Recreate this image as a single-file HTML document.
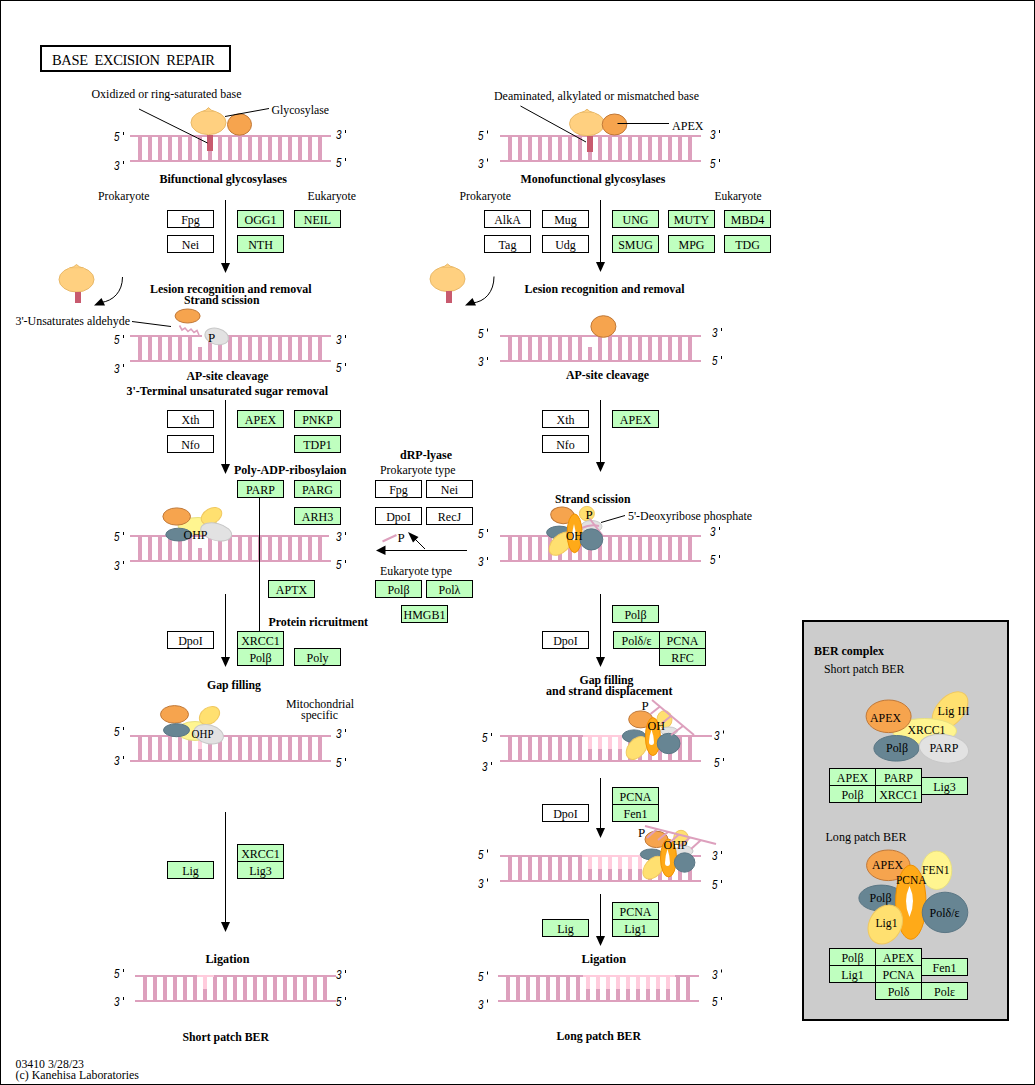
<!DOCTYPE html>
<html><head><meta charset="utf-8"><style>
html,body{margin:0;padding:0;background:#fff;}
svg{display:block;font-family:"Liberation Serif",serif;}
</style></head><body>
<svg width="1035" height="1085" viewBox="0 0 1035 1085">
<rect x="0.5" y="0.5" width="1034" height="1084" fill="#fff" stroke="#000" stroke-width="1"/>
<rect x="41" y="46" width="189" height="25" fill="none" stroke="#000" stroke-width="2"/>
<text x="52" y="65" font-size="14.5" textLength="163" lengthAdjust="spacing" xml:space="preserve">BASE  EXCISION  REPAIR</text>
<text x="91.5" y="97.5" font-size="13" textLength="150" lengthAdjust="spacingAndGlyphs" >Oxidized or ring-saturated base</text>
<rect x="130" y="135" width="201" height="2" fill="#dda0bd"/>
<rect x="130" y="160" width="201" height="2" fill="#dda0bd"/>
<rect x="138" y="137" width="4" height="23" fill="#dda0bd"/>
<rect x="148" y="137" width="4" height="23" fill="#dda0bd"/>
<rect x="158" y="137" width="4" height="23" fill="#dda0bd"/>
<rect x="168" y="137" width="4" height="23" fill="#dda0bd"/>
<rect x="178" y="137" width="4" height="23" fill="#dda0bd"/>
<rect x="188" y="137" width="4" height="23" fill="#dda0bd"/>
<rect x="198" y="137" width="4" height="23" fill="#dda0bd"/>
<rect x="208" y="137" width="4" height="23" fill="#dda0bd"/>
<rect x="218" y="137" width="4" height="23" fill="#dda0bd"/>
<rect x="228" y="137" width="4" height="23" fill="#dda0bd"/>
<rect x="238" y="137" width="4" height="23" fill="#dda0bd"/>
<rect x="248" y="137" width="4" height="23" fill="#dda0bd"/>
<rect x="258" y="137" width="4" height="23" fill="#dda0bd"/>
<rect x="268" y="137" width="4" height="23" fill="#dda0bd"/>
<rect x="278" y="137" width="4" height="23" fill="#dda0bd"/>
<rect x="288" y="137" width="4" height="23" fill="#dda0bd"/>
<rect x="298" y="137" width="4" height="23" fill="#dda0bd"/>
<rect x="308" y="137" width="4" height="23" fill="#dda0bd"/>
<rect x="318" y="137" width="4" height="23" fill="#dda0bd"/>
<text x="114" y="141" font-size="12" font-style="italic" font-family="Liberation Sans" textLength="5.5" lengthAdjust="spacingAndGlyphs">5</text>
<rect x="123" y="132" width="1" height="3" fill="#000"/>
<text x="114" y="170" font-size="12" font-style="italic" font-family="Liberation Sans" textLength="5.5" lengthAdjust="spacingAndGlyphs">3</text>
<rect x="123" y="161" width="1" height="3" fill="#000"/>
<text x="336" y="139" font-size="12" font-style="italic" font-family="Liberation Sans" textLength="5.5" lengthAdjust="spacingAndGlyphs">3</text>
<rect x="345" y="130" width="1" height="3" fill="#000"/>
<text x="336" y="167" font-size="12" font-style="italic" font-family="Liberation Sans" textLength="5.5" lengthAdjust="spacingAndGlyphs">5</text>
<rect x="345" y="158" width="1" height="3" fill="#000"/>
<ellipse cx="208.5" cy="122.6" rx="17.5" ry="12" fill="#ffd080" stroke="#e8b868" stroke-width="1"/>
<path d="M201.5,111.8 Q206.5,110.6 208.5,107.6 Q210.5,110.6 215.5,111.8 Z" fill="#ffd080" stroke="#e8b868" stroke-width="1"/>
<rect x="200.5" y="111.8" width="16" height="4" fill="#ffd080"/>
<rect x="207" y="135" width="6" height="16" fill="#c85a6e"/>
<ellipse cx="239.5" cy="124.5" rx="12" ry="10.7" fill="#f6a44e" stroke="#c07838" stroke-width="1"/>
<line x1="139" y1="109" x2="207.5" y2="143" stroke="#000" stroke-width="1"/>
<line x1="225" y1="116.5" x2="269" y2="108.5" stroke="#000" stroke-width="1"/>
<text x="271.5" y="114" font-size="13" textLength="57.5" lengthAdjust="spacingAndGlyphs" >Glycosylase</text>
<text x="159.5" y="182.5" font-size="13" font-weight="bold" textLength="127.5" lengthAdjust="spacingAndGlyphs" >Bifunctional glycosylases</text>
<text x="98" y="199.8" font-size="13" textLength="51.5" lengthAdjust="spacingAndGlyphs" >Prokaryote</text>
<text x="307.5" y="199.8" font-size="13" textLength="48.5" lengthAdjust="spacingAndGlyphs" >Eukaryote</text>
<rect x="167.5" y="210.5" width="46" height="17" fill="#ffffff" stroke="#000" stroke-width="1"/>
<text x="190.5" y="224" font-size="13" text-anchor="middle" textLength="18.67" lengthAdjust="spacingAndGlyphs">Fpg</text>
<rect x="167.5" y="235.5" width="46" height="17" fill="#ffffff" stroke="#000" stroke-width="1"/>
<text x="190.5" y="249" font-size="13" text-anchor="middle" textLength="17.33" lengthAdjust="spacingAndGlyphs">Nei</text>
<rect x="237.5" y="210.5" width="46" height="17" fill="#bfffbf" stroke="#000" stroke-width="1"/>
<text x="260.5" y="224" font-size="13" text-anchor="middle" textLength="32.02" lengthAdjust="spacingAndGlyphs">OGG1</text>
<rect x="294.5" y="210.5" width="46" height="17" fill="#bfffbf" stroke="#000" stroke-width="1"/>
<text x="317.5" y="224" font-size="13" text-anchor="middle" textLength="27.33" lengthAdjust="spacingAndGlyphs">NEIL</text>
<rect x="237.5" y="235.5" width="46" height="17" fill="#bfffbf" stroke="#000" stroke-width="1"/>
<text x="260.5" y="249" font-size="13" text-anchor="middle" textLength="24.67" lengthAdjust="spacingAndGlyphs">NTH</text>
<line x1="225.5" y1="200" x2="225.5" y2="264" stroke="#000" stroke-width="1"/>
<path d="M221,263 L230,263 L225.5,273 Z" fill="#000"/>
<ellipse cx="76.5" cy="279.5" rx="17.5" ry="12.5" fill="#ffd080" stroke="#e8b868" stroke-width="1"/>
<path d="M69.5,268.2 Q74.5,267.0 76.5,264.5 Q78.5,267.0 83.5,268.2 Z" fill="#ffd080" stroke="#e8b868" stroke-width="1"/>
<rect x="68.5" y="268.2" width="16" height="4" fill="#ffd080"/>
<rect x="75" y="292" width="6" height="11" fill="#c85a6e"/>
<path d="M122.5,277 C122.5,292 113,301 101,302.5" fill="none" stroke="#000" stroke-width="1"/>
<path d="M94,305.5 L101.5,298 L105,305.5 Z" fill="#000"/>
<text x="150" y="293" font-size="13" font-weight="bold" textLength="161.5" lengthAdjust="spacingAndGlyphs" >Lesion recognition and removal</text>
<text x="184" y="304" font-size="13" font-weight="bold" textLength="75.5" lengthAdjust="spacingAndGlyphs" >Strand scission</text>
<text x="15.5" y="325" font-size="13" textLength="114.5" lengthAdjust="spacingAndGlyphs" >3'-Unsaturates aldehyde</text>
<line x1="132" y1="321.5" x2="171" y2="326.5" stroke="#000" stroke-width="1"/>
<rect x="130" y="335" width="72" height="2" fill="#dda0bd"/>
<rect x="226" y="335" width="105" height="2" fill="#dda0bd"/>
<rect x="130" y="360" width="201" height="2" fill="#dda0bd"/>
<rect x="138" y="337" width="4" height="23" fill="#dda0bd"/>
<rect x="148" y="337" width="4" height="23" fill="#dda0bd"/>
<rect x="158" y="337" width="4" height="23" fill="#dda0bd"/>
<rect x="168" y="337" width="4" height="23" fill="#dda0bd"/>
<rect x="178" y="337" width="4" height="23" fill="#dda0bd"/>
<rect x="188" y="337" width="4" height="23" fill="#dda0bd"/>
<rect x="198" y="347" width="4" height="13" fill="#dda0bd"/>
<rect x="208" y="337" width="4" height="23" fill="#dda0bd"/>
<rect x="218" y="337" width="4" height="23" fill="#dda0bd"/>
<rect x="228" y="337" width="4" height="23" fill="#dda0bd"/>
<rect x="238" y="337" width="4" height="23" fill="#dda0bd"/>
<rect x="248" y="337" width="4" height="23" fill="#dda0bd"/>
<rect x="258" y="337" width="4" height="23" fill="#dda0bd"/>
<rect x="268" y="337" width="4" height="23" fill="#dda0bd"/>
<rect x="278" y="337" width="4" height="23" fill="#dda0bd"/>
<rect x="288" y="337" width="4" height="23" fill="#dda0bd"/>
<rect x="298" y="337" width="4" height="23" fill="#dda0bd"/>
<rect x="308" y="337" width="4" height="23" fill="#dda0bd"/>
<rect x="318" y="337" width="4" height="23" fill="#dda0bd"/>
<text x="114" y="344" font-size="12" font-style="italic" font-family="Liberation Sans" textLength="5.5" lengthAdjust="spacingAndGlyphs">5</text>
<rect x="123" y="335" width="1" height="3" fill="#000"/>
<text x="114" y="373" font-size="12" font-style="italic" font-family="Liberation Sans" textLength="5.5" lengthAdjust="spacingAndGlyphs">3</text>
<rect x="123" y="364" width="1" height="3" fill="#000"/>
<text x="336" y="344" font-size="12" font-style="italic" font-family="Liberation Sans" textLength="5.5" lengthAdjust="spacingAndGlyphs">3</text>
<rect x="345" y="335" width="1" height="3" fill="#000"/>
<text x="336" y="372" font-size="12" font-style="italic" font-family="Liberation Sans" textLength="5.5" lengthAdjust="spacingAndGlyphs">5</text>
<rect x="345" y="363" width="1" height="3" fill="#000"/>
<ellipse cx="187.6" cy="316" rx="12.5" ry="7" fill="#f6a44e" stroke="#c07838" stroke-width="1"/>
<path d="M179.5,325.5 L182,330 L185,328 L188,331.5 L191,329 L194,332.5 L197,330.5 L199,335" fill="none" stroke="#dda0bd" stroke-width="1.6"/>
<ellipse cx="216.7" cy="336.4" rx="12" ry="8" fill="#e2e2e2" stroke="#c8c8c8" stroke-width="1" transform="rotate(15 216.7 336.4)"/>
<text x="208" y="342" font-size="13" >P</text>
<text x="186.5" y="380" font-size="13" font-weight="bold" textLength="82" lengthAdjust="spacingAndGlyphs" >AP-site cleavage</text>
<text x="126.5" y="395" font-size="13" font-weight="bold" textLength="201.5" lengthAdjust="spacingAndGlyphs" >3'-Terminal unsaturated sugar removal</text>
<rect x="167.5" y="410.5" width="46" height="17" fill="#ffffff" stroke="#000" stroke-width="1"/>
<text x="190.5" y="424" font-size="13" text-anchor="middle" textLength="18.00" lengthAdjust="spacingAndGlyphs">Xth</text>
<rect x="167.5" y="435.5" width="46" height="17" fill="#ffffff" stroke="#000" stroke-width="1"/>
<text x="190.5" y="449" font-size="13" text-anchor="middle" textLength="18.67" lengthAdjust="spacingAndGlyphs">Nfo</text>
<rect x="237.5" y="410.5" width="46" height="17" fill="#bfffbf" stroke="#000" stroke-width="1"/>
<text x="260.5" y="424" font-size="13" text-anchor="middle" textLength="31.34" lengthAdjust="spacingAndGlyphs">APEX</text>
<rect x="294.5" y="410.5" width="46" height="17" fill="#bfffbf" stroke="#000" stroke-width="1"/>
<text x="317.5" y="424" font-size="13" text-anchor="middle" textLength="30.69" lengthAdjust="spacingAndGlyphs">PNKP</text>
<rect x="294.5" y="435.5" width="46" height="17" fill="#bfffbf" stroke="#000" stroke-width="1"/>
<text x="317.5" y="449" font-size="13" text-anchor="middle" textLength="28.67" lengthAdjust="spacingAndGlyphs">TDP1</text>
<line x1="225.5" y1="400" x2="225.5" y2="465" stroke="#000" stroke-width="1"/>
<path d="M221,464 L230,464 L225.5,474 Z" fill="#000"/>
<text x="234" y="473.5" font-size="13" font-weight="bold" textLength="112.5" lengthAdjust="spacingAndGlyphs" >Poly-ADP-ribosylaion</text>
<rect x="237.5" y="480.5" width="46" height="17" fill="#bfffbf" stroke="#000" stroke-width="1"/>
<text x="260.5" y="494" font-size="13" text-anchor="middle" textLength="28.92" lengthAdjust="spacingAndGlyphs">PARP</text>
<rect x="294.5" y="480.5" width="46" height="17" fill="#bfffbf" stroke="#000" stroke-width="1"/>
<text x="317.5" y="494" font-size="13" text-anchor="middle" textLength="30.92" lengthAdjust="spacingAndGlyphs">PARG</text>
<rect x="294.5" y="507.5" width="46" height="17" fill="#bfffbf" stroke="#000" stroke-width="1"/>
<text x="317.5" y="521" font-size="13" text-anchor="middle" textLength="31.34" lengthAdjust="spacingAndGlyphs">ARH3</text>
<rect x="130" y="535" width="199" height="2" fill="#dda0bd"/>
<rect x="130" y="560" width="201" height="2" fill="#dda0bd"/>
<rect x="138" y="537" width="4" height="23" fill="#dda0bd"/>
<rect x="148" y="537" width="4" height="23" fill="#dda0bd"/>
<rect x="158" y="537" width="4" height="23" fill="#dda0bd"/>
<rect x="168" y="537" width="4" height="23" fill="#dda0bd"/>
<rect x="178" y="537" width="4" height="23" fill="#dda0bd"/>
<rect x="188" y="537" width="4" height="23" fill="#dda0bd"/>
<rect x="198" y="548" width="4" height="12" fill="#dda0bd"/>
<rect x="208" y="537" width="4" height="23" fill="#dda0bd"/>
<rect x="218" y="537" width="4" height="23" fill="#dda0bd"/>
<rect x="228" y="537" width="4" height="23" fill="#dda0bd"/>
<rect x="238" y="537" width="4" height="23" fill="#dda0bd"/>
<rect x="248" y="537" width="4" height="23" fill="#dda0bd"/>
<rect x="258" y="537" width="4" height="23" fill="#dda0bd"/>
<rect x="268" y="537" width="4" height="23" fill="#dda0bd"/>
<rect x="278" y="537" width="4" height="23" fill="#dda0bd"/>
<rect x="288" y="537" width="4" height="23" fill="#dda0bd"/>
<rect x="298" y="537" width="4" height="23" fill="#dda0bd"/>
<rect x="308" y="537" width="4" height="23" fill="#dda0bd"/>
<rect x="318" y="537" width="4" height="23" fill="#dda0bd"/>
<text x="114" y="541" font-size="12" font-style="italic" font-family="Liberation Sans" textLength="5.5" lengthAdjust="spacingAndGlyphs">5</text>
<rect x="123" y="532" width="1" height="3" fill="#000"/>
<text x="114" y="570" font-size="12" font-style="italic" font-family="Liberation Sans" textLength="5.5" lengthAdjust="spacingAndGlyphs">3</text>
<rect x="123" y="561" width="1" height="3" fill="#000"/>
<text x="336" y="541" font-size="12" font-style="italic" font-family="Liberation Sans" textLength="5.5" lengthAdjust="spacingAndGlyphs">3</text>
<rect x="345" y="532" width="1" height="3" fill="#000"/>
<text x="336" y="569" font-size="12" font-style="italic" font-family="Liberation Sans" textLength="5.5" lengthAdjust="spacingAndGlyphs">5</text>
<rect x="345" y="560" width="1" height="3" fill="#000"/>
<ellipse cx="198" cy="526" rx="20" ry="8.5" fill="#fff590" stroke="#e8e080" stroke-width="1"/>
<ellipse cx="211.5" cy="516" rx="11" ry="7.5" fill="#ffe070" stroke="#f0c860" stroke-width="1" transform="rotate(-30 211.5 516)"/>
<ellipse cx="176.7" cy="516.5" rx="13.8" ry="8.6" fill="#f6a44e" stroke="#c07838" stroke-width="1"/>
<ellipse cx="178.7" cy="534.6" rx="12.9" ry="6.4" fill="#678593" stroke="#5a7684" stroke-width="1"/>
<ellipse cx="216.2" cy="531.9" rx="15.8" ry="8.5" fill="#e2e2e2" stroke="#c8c8c8" stroke-width="1" transform="rotate(15 216.2 531.9)"/>
<text x="183.5" y="538.5" font-size="13" textLength="24" lengthAdjust="spacingAndGlyphs" >OHP</text>
<line x1="259.5" y1="497" x2="259.5" y2="631" stroke="#000" stroke-width="1"/>
<rect x="268.5" y="580.5" width="46" height="17" fill="#bfffbf" stroke="#000" stroke-width="1"/>
<text x="291.5" y="594" font-size="13" text-anchor="middle" textLength="31.34" lengthAdjust="spacingAndGlyphs">APTX</text>
<line x1="225.5" y1="594" x2="225.5" y2="658" stroke="#000" stroke-width="1"/>
<path d="M221,657 L230,657 L225.5,667 Z" fill="#000"/>
<text x="268.5" y="625.5" font-size="13" font-weight="bold" textLength="99.5" lengthAdjust="spacingAndGlyphs" >Protein ricruitment</text>
<rect x="167.5" y="631.5" width="46" height="17" fill="#ffffff" stroke="#000" stroke-width="1"/>
<text x="190.5" y="645" font-size="13" text-anchor="middle" textLength="24.67" lengthAdjust="spacingAndGlyphs">DpoI</text>
<rect x="237.5" y="631.5" width="46" height="17" fill="#bfffbf" stroke="#000" stroke-width="1"/>
<text x="260.5" y="645" font-size="13" text-anchor="middle" textLength="38.67" lengthAdjust="spacingAndGlyphs">XRCC1</text>
<rect x="237.5" y="648.5" width="46" height="17" fill="#bfffbf" stroke="#000" stroke-width="1"/>
<text x="260.5" y="662" font-size="13" text-anchor="middle" textLength="22.11" lengthAdjust="spacingAndGlyphs">Polβ</text>
<rect x="294.5" y="648.5" width="46" height="17" fill="#bfffbf" stroke="#000" stroke-width="1"/>
<text x="317.5" y="662" font-size="13" text-anchor="middle" textLength="22.00" lengthAdjust="spacingAndGlyphs">Poly</text>
<text x="207" y="689" font-size="13" font-weight="bold" textLength="54" lengthAdjust="spacingAndGlyphs" >Gap  filling</text>
<text x="286" y="707.5" font-size="13" textLength="68" lengthAdjust="spacingAndGlyphs" >Mitochondrial</text>
<text x="301" y="718.5" font-size="13" textLength="37" lengthAdjust="spacingAndGlyphs" >specific</text>
<rect x="130" y="735" width="201" height="2" fill="#dda0bd"/>
<rect x="130" y="760" width="201" height="2" fill="#dda0bd"/>
<rect x="138" y="737" width="4" height="23" fill="#dda0bd"/>
<rect x="148" y="737" width="4" height="23" fill="#dda0bd"/>
<rect x="158" y="737" width="4" height="23" fill="#dda0bd"/>
<rect x="168" y="737" width="4" height="23" fill="#dda0bd"/>
<rect x="178" y="737" width="4" height="23" fill="#dda0bd"/>
<rect x="188" y="737" width="4" height="23" fill="#dda0bd"/>
<rect x="198" y="737" width="4" height="12" fill="#ffccdd"/>
<rect x="198" y="749" width="4" height="11" fill="#dda0bd"/>
<rect x="208" y="737" width="4" height="23" fill="#dda0bd"/>
<rect x="218" y="737" width="4" height="23" fill="#dda0bd"/>
<rect x="228" y="737" width="4" height="23" fill="#dda0bd"/>
<rect x="238" y="737" width="4" height="23" fill="#dda0bd"/>
<rect x="248" y="737" width="4" height="23" fill="#dda0bd"/>
<rect x="258" y="737" width="4" height="23" fill="#dda0bd"/>
<rect x="268" y="737" width="4" height="23" fill="#dda0bd"/>
<rect x="278" y="737" width="4" height="23" fill="#dda0bd"/>
<rect x="288" y="737" width="4" height="23" fill="#dda0bd"/>
<rect x="298" y="737" width="4" height="23" fill="#dda0bd"/>
<rect x="308" y="737" width="4" height="23" fill="#dda0bd"/>
<rect x="318" y="737" width="4" height="23" fill="#dda0bd"/>
<text x="114" y="736" font-size="12" font-style="italic" font-family="Liberation Sans" textLength="5.5" lengthAdjust="spacingAndGlyphs">5</text>
<rect x="123" y="727" width="1" height="3" fill="#000"/>
<text x="114" y="765" font-size="12" font-style="italic" font-family="Liberation Sans" textLength="5.5" lengthAdjust="spacingAndGlyphs">3</text>
<rect x="123" y="756" width="1" height="3" fill="#000"/>
<text x="336" y="738" font-size="12" font-style="italic" font-family="Liberation Sans" textLength="5.5" lengthAdjust="spacingAndGlyphs">3</text>
<rect x="345" y="729" width="1" height="3" fill="#000"/>
<text x="336" y="767" font-size="12" font-style="italic" font-family="Liberation Sans" textLength="5.5" lengthAdjust="spacingAndGlyphs">5</text>
<rect x="345" y="758" width="1" height="3" fill="#000"/>
<ellipse cx="195" cy="731" rx="18" ry="9.5" fill="#fff590" stroke="#e8e080" stroke-width="1"/>
<ellipse cx="209.5" cy="715.5" rx="11" ry="8" fill="#ffe070" stroke="#f0c860" stroke-width="1" transform="rotate(-35 209.5 715.5)"/>
<ellipse cx="174.5" cy="714.4" rx="14" ry="8.8" fill="#f6a44e" stroke="#c07838" stroke-width="1"/>
<ellipse cx="176.5" cy="730.2" rx="13" ry="6.5" fill="#678593" stroke="#5a7684" stroke-width="1"/>
<ellipse cx="208.7" cy="734.2" rx="15" ry="9.3" fill="#e2e2e2" stroke="#c8c8c8" stroke-width="1" transform="rotate(15 208.7 734.2)"/>
<text x="191.5" y="737.5" font-size="13" textLength="22" lengthAdjust="spacingAndGlyphs" >OHP</text>
<line x1="225.5" y1="812" x2="225.5" y2="923" stroke="#000" stroke-width="1"/>
<path d="M221,922 L230,922 L225.5,932 Z" fill="#000"/>
<rect x="237.5" y="844.5" width="46" height="17" fill="#bfffbf" stroke="#000" stroke-width="1"/>
<text x="260.5" y="858" font-size="13" text-anchor="middle" textLength="38.67" lengthAdjust="spacingAndGlyphs">XRCC1</text>
<rect x="237.5" y="861.5" width="46" height="17" fill="#bfffbf" stroke="#000" stroke-width="1"/>
<text x="260.5" y="875" font-size="13" text-anchor="middle" textLength="22.66" lengthAdjust="spacingAndGlyphs">Lig3</text>
<rect x="167.5" y="861.5" width="46" height="17" fill="#bfffbf" stroke="#000" stroke-width="1"/>
<text x="190.5" y="875" font-size="13" text-anchor="middle" textLength="16.66" lengthAdjust="spacingAndGlyphs">Lig</text>
<text x="205.5" y="963" font-size="13" font-weight="bold" textLength="44" lengthAdjust="spacingAndGlyphs" >Ligation</text>
<rect x="135" y="975" width="201" height="2" fill="#dda0bd"/>
<rect x="135" y="1000" width="201" height="2" fill="#dda0bd"/>
<rect x="197" y="975" width="17" height="2" fill="#ffccdd"/>
<rect x="143" y="977" width="4" height="23" fill="#dda0bd"/>
<rect x="153" y="977" width="4" height="23" fill="#dda0bd"/>
<rect x="163" y="977" width="4" height="23" fill="#dda0bd"/>
<rect x="173" y="977" width="4" height="23" fill="#dda0bd"/>
<rect x="183" y="977" width="4" height="23" fill="#dda0bd"/>
<rect x="193" y="977" width="4" height="23" fill="#dda0bd"/>
<rect x="203" y="977" width="4" height="12" fill="#ffccdd"/>
<rect x="203" y="989" width="4" height="11" fill="#dda0bd"/>
<rect x="213" y="977" width="4" height="23" fill="#dda0bd"/>
<rect x="223" y="977" width="4" height="23" fill="#dda0bd"/>
<rect x="233" y="977" width="4" height="23" fill="#dda0bd"/>
<rect x="243" y="977" width="4" height="23" fill="#dda0bd"/>
<rect x="253" y="977" width="4" height="23" fill="#dda0bd"/>
<rect x="263" y="977" width="4" height="23" fill="#dda0bd"/>
<rect x="273" y="977" width="4" height="23" fill="#dda0bd"/>
<rect x="283" y="977" width="4" height="23" fill="#dda0bd"/>
<rect x="293" y="977" width="4" height="23" fill="#dda0bd"/>
<rect x="303" y="977" width="4" height="23" fill="#dda0bd"/>
<rect x="313" y="977" width="4" height="23" fill="#dda0bd"/>
<rect x="323" y="977" width="4" height="23" fill="#dda0bd"/>
<text x="114" y="978" font-size="12" font-style="italic" font-family="Liberation Sans" textLength="5.5" lengthAdjust="spacingAndGlyphs">5</text>
<rect x="123" y="969" width="1" height="3" fill="#000"/>
<text x="114" y="1006" font-size="12" font-style="italic" font-family="Liberation Sans" textLength="5.5" lengthAdjust="spacingAndGlyphs">3</text>
<rect x="123" y="997" width="1" height="3" fill="#000"/>
<text x="336" y="979" font-size="12" font-style="italic" font-family="Liberation Sans" textLength="5.5" lengthAdjust="spacingAndGlyphs">3</text>
<rect x="345" y="970" width="1" height="3" fill="#000"/>
<text x="336" y="1006" font-size="12" font-style="italic" font-family="Liberation Sans" textLength="5.5" lengthAdjust="spacingAndGlyphs">5</text>
<rect x="345" y="997" width="1" height="3" fill="#000"/>
<text x="182.5" y="1040.5" font-size="13" font-weight="bold" textLength="86.5" lengthAdjust="spacingAndGlyphs" >Short patch BER</text>
<text x="400" y="458.5" font-size="13" font-weight="bold" textLength="52" lengthAdjust="spacingAndGlyphs" >dRP-lyase</text>
<text x="380" y="473.5" font-size="13" textLength="75.5" lengthAdjust="spacingAndGlyphs" >Prokaryote type</text>
<rect x="375.5" y="480.5" width="46" height="17" fill="#ffffff" stroke="#000" stroke-width="1"/>
<text x="398.5" y="494" font-size="13" text-anchor="middle" textLength="18.67" lengthAdjust="spacingAndGlyphs">Fpg</text>
<rect x="426.5" y="480.5" width="46" height="17" fill="#ffffff" stroke="#000" stroke-width="1"/>
<text x="449.5" y="494" font-size="13" text-anchor="middle" textLength="17.33" lengthAdjust="spacingAndGlyphs">Nei</text>
<rect x="375.5" y="507.5" width="46" height="17" fill="#ffffff" stroke="#000" stroke-width="1"/>
<text x="398.5" y="521" font-size="13" text-anchor="middle" textLength="24.67" lengthAdjust="spacingAndGlyphs">DpoI</text>
<rect x="426.5" y="507.5" width="46" height="17" fill="#ffffff" stroke="#000" stroke-width="1"/>
<text x="449.5" y="521" font-size="13" text-anchor="middle" textLength="23.33" lengthAdjust="spacingAndGlyphs">RecJ</text>
<line x1="382.5" y1="541.5" x2="396.5" y2="535" stroke="#dda0bd" stroke-width="2"/>
<text x="397.5" y="541.5" font-size="13" >P</text>
<line x1="425" y1="549" x2="412" y2="536" stroke="#000" stroke-width="1"/>
<path d="M408,532 L418.5,537 L413,542.5 Z" fill="#000"/>
<line x1="467" y1="550.5" x2="384" y2="550.5" stroke="#000" stroke-width="1"/>
<path d="M376,550.5 L385.5,545.5 L385.5,555 Z" fill="#000"/>
<text x="380" y="575" font-size="13" textLength="72" lengthAdjust="spacingAndGlyphs" >Eukaryote type</text>
<rect x="375.5" y="580.5" width="46" height="17" fill="#bfffbf" stroke="#000" stroke-width="1"/>
<text x="398.5" y="594" font-size="13" text-anchor="middle" textLength="22.11" lengthAdjust="spacingAndGlyphs">Polβ</text>
<rect x="426.5" y="580.5" width="46" height="17" fill="#bfffbf" stroke="#000" stroke-width="1"/>
<text x="449.5" y="594" font-size="13" text-anchor="middle" textLength="21.81" lengthAdjust="spacingAndGlyphs">Polλ</text>
<rect x="401.5" y="605.5" width="46" height="17" fill="#bfffbf" stroke="#000" stroke-width="1"/>
<text x="424.5" y="619" font-size="13" text-anchor="middle" textLength="42.02" lengthAdjust="spacingAndGlyphs">HMGB1</text>
<text x="494" y="100" font-size="13" textLength="205" lengthAdjust="spacingAndGlyphs" >Deaminated, alkylated or mismatched base</text>
<rect x="500" y="135" width="201" height="2" fill="#dda0bd"/>
<rect x="500" y="160" width="201" height="2" fill="#dda0bd"/>
<rect x="508" y="137" width="4" height="23" fill="#dda0bd"/>
<rect x="518" y="137" width="4" height="23" fill="#dda0bd"/>
<rect x="528" y="137" width="4" height="23" fill="#dda0bd"/>
<rect x="538" y="137" width="4" height="23" fill="#dda0bd"/>
<rect x="548" y="137" width="4" height="23" fill="#dda0bd"/>
<rect x="558" y="137" width="4" height="23" fill="#dda0bd"/>
<rect x="568" y="137" width="4" height="23" fill="#dda0bd"/>
<rect x="578" y="137" width="4" height="23" fill="#dda0bd"/>
<rect x="588" y="137" width="4" height="23" fill="#dda0bd"/>
<rect x="598" y="137" width="4" height="23" fill="#dda0bd"/>
<rect x="608" y="137" width="4" height="23" fill="#dda0bd"/>
<rect x="618" y="137" width="4" height="23" fill="#dda0bd"/>
<rect x="628" y="137" width="4" height="23" fill="#dda0bd"/>
<rect x="638" y="137" width="4" height="23" fill="#dda0bd"/>
<rect x="648" y="137" width="4" height="23" fill="#dda0bd"/>
<rect x="658" y="137" width="4" height="23" fill="#dda0bd"/>
<rect x="668" y="137" width="4" height="23" fill="#dda0bd"/>
<rect x="678" y="137" width="4" height="23" fill="#dda0bd"/>
<rect x="688" y="137" width="4" height="23" fill="#dda0bd"/>
<text x="478" y="139.5" font-size="12" font-style="italic" font-family="Liberation Sans" textLength="5.5" lengthAdjust="spacingAndGlyphs">5</text>
<rect x="487" y="130.5" width="1" height="3" fill="#000"/>
<text x="478" y="167.5" font-size="12" font-style="italic" font-family="Liberation Sans" textLength="5.5" lengthAdjust="spacingAndGlyphs">3</text>
<rect x="487" y="158.5" width="1" height="3" fill="#000"/>
<text x="710" y="139" font-size="12" font-style="italic" font-family="Liberation Sans" textLength="5.5" lengthAdjust="spacingAndGlyphs">3</text>
<rect x="719" y="130" width="1" height="3" fill="#000"/>
<text x="710" y="168" font-size="12" font-style="italic" font-family="Liberation Sans" textLength="5.5" lengthAdjust="spacingAndGlyphs">5</text>
<rect x="719" y="159" width="1" height="3" fill="#000"/>
<ellipse cx="587" cy="123.7" rx="17.5" ry="12" fill="#ffd080" stroke="#e8b868" stroke-width="1"/>
<path d="M580,112.9 Q585,111.7 587,109.2 Q589,111.7 594,112.9 Z" fill="#ffd080" stroke="#e8b868" stroke-width="1"/>
<rect x="579" y="112.9" width="16" height="4" fill="#ffd080"/>
<rect x="587" y="136" width="6" height="16" fill="#c85a6e"/>
<ellipse cx="614.5" cy="124.5" rx="12.3" ry="10.5" fill="#f6a44e" stroke="#c07838" stroke-width="1"/>
<line x1="520.5" y1="106" x2="586" y2="142" stroke="#000" stroke-width="1"/>
<line x1="617.5" y1="123.5" x2="669" y2="123.5" stroke="#000" stroke-width="1"/>
<text x="672" y="129.5" font-size="13" textLength="31.5" lengthAdjust="spacingAndGlyphs" >APEX</text>
<text x="520.5" y="182.6" font-size="13" font-weight="bold" textLength="145" lengthAdjust="spacingAndGlyphs" >Monofunctional glycosylases</text>
<text x="459.5" y="199.8" font-size="13" textLength="51.5" lengthAdjust="spacingAndGlyphs" >Prokaryote</text>
<text x="714.5" y="199.8" font-size="13" textLength="47" lengthAdjust="spacingAndGlyphs" >Eukaryote</text>
<rect x="484.5" y="210.5" width="46" height="17" fill="#ffffff" stroke="#000" stroke-width="1"/>
<text x="507.5" y="224" font-size="13" text-anchor="middle" textLength="26.67" lengthAdjust="spacingAndGlyphs">AlkA</text>
<rect x="542.5" y="210.5" width="46" height="17" fill="#ffffff" stroke="#000" stroke-width="1"/>
<text x="565.5" y="224" font-size="13" text-anchor="middle" textLength="22.67" lengthAdjust="spacingAndGlyphs">Mug</text>
<rect x="612.5" y="210.5" width="46" height="17" fill="#bfffbf" stroke="#000" stroke-width="1"/>
<text x="635.5" y="224" font-size="13" text-anchor="middle" textLength="26.02" lengthAdjust="spacingAndGlyphs">UNG</text>
<rect x="668.5" y="210.5" width="46" height="17" fill="#bfffbf" stroke="#000" stroke-width="1"/>
<text x="691.5" y="224" font-size="13" text-anchor="middle" textLength="35.34" lengthAdjust="spacingAndGlyphs">MUTY</text>
<rect x="724.5" y="210.5" width="46" height="17" fill="#bfffbf" stroke="#000" stroke-width="1"/>
<text x="747.5" y="224" font-size="13" text-anchor="middle" textLength="33.34" lengthAdjust="spacingAndGlyphs">MBD4</text>
<rect x="484.5" y="235.5" width="46" height="17" fill="#ffffff" stroke="#000" stroke-width="1"/>
<text x="507.5" y="249" font-size="13" text-anchor="middle" textLength="17.81" lengthAdjust="spacingAndGlyphs">Tag</text>
<rect x="542.5" y="235.5" width="46" height="17" fill="#ffffff" stroke="#000" stroke-width="1"/>
<text x="565.5" y="249" font-size="13" text-anchor="middle" textLength="20.67" lengthAdjust="spacingAndGlyphs">Udg</text>
<rect x="612.5" y="235.5" width="46" height="17" fill="#bfffbf" stroke="#000" stroke-width="1"/>
<text x="635.5" y="249" font-size="13" text-anchor="middle" textLength="34.69" lengthAdjust="spacingAndGlyphs">SMUG</text>
<rect x="668.5" y="235.5" width="46" height="17" fill="#bfffbf" stroke="#000" stroke-width="1"/>
<text x="691.5" y="249" font-size="13" text-anchor="middle" textLength="26.02" lengthAdjust="spacingAndGlyphs">MPG</text>
<rect x="724.5" y="235.5" width="46" height="17" fill="#bfffbf" stroke="#000" stroke-width="1"/>
<text x="747.5" y="249" font-size="13" text-anchor="middle" textLength="24.67" lengthAdjust="spacingAndGlyphs">TDG</text>
<line x1="600.5" y1="200" x2="600.5" y2="263" stroke="#000" stroke-width="1"/>
<path d="M596,262 L605,262 L600.5,272 Z" fill="#000"/>
<ellipse cx="447.5" cy="279" rx="17.5" ry="12.5" fill="#ffd080" stroke="#e8b868" stroke-width="1"/>
<path d="M440.5,267.7 Q445.5,266.5 447.5,264.0 Q449.5,266.5 454.5,267.7 Z" fill="#ffd080" stroke="#e8b868" stroke-width="1"/>
<rect x="439.5" y="267.7" width="16" height="4" fill="#ffd080"/>
<rect x="446" y="291" width="6" height="12" fill="#c85a6e"/>
<path d="M494,276.5 C494,292 485,302 472,303" fill="none" stroke="#000" stroke-width="1"/>
<path d="M465,305.5 L472.5,298 L476,305.5 Z" fill="#000"/>
<text x="524.5" y="293" font-size="13" font-weight="bold" textLength="160" lengthAdjust="spacingAndGlyphs" >Lesion recognition and removal</text>
<rect x="500" y="335" width="201" height="2" fill="#dda0bd"/>
<rect x="500" y="360" width="201" height="2" fill="#dda0bd"/>
<rect x="508" y="337" width="4" height="23" fill="#dda0bd"/>
<rect x="518" y="337" width="4" height="23" fill="#dda0bd"/>
<rect x="528" y="337" width="4" height="23" fill="#dda0bd"/>
<rect x="538" y="337" width="4" height="23" fill="#dda0bd"/>
<rect x="548" y="337" width="4" height="23" fill="#dda0bd"/>
<rect x="558" y="337" width="4" height="23" fill="#dda0bd"/>
<rect x="568" y="337" width="4" height="23" fill="#dda0bd"/>
<rect x="578" y="337" width="4" height="23" fill="#dda0bd"/>
<rect x="588" y="347" width="4" height="13" fill="#dda0bd"/>
<rect x="598" y="337" width="4" height="23" fill="#dda0bd"/>
<rect x="608" y="337" width="4" height="23" fill="#dda0bd"/>
<rect x="618" y="337" width="4" height="23" fill="#dda0bd"/>
<rect x="628" y="337" width="4" height="23" fill="#dda0bd"/>
<rect x="638" y="337" width="4" height="23" fill="#dda0bd"/>
<rect x="648" y="337" width="4" height="23" fill="#dda0bd"/>
<rect x="658" y="337" width="4" height="23" fill="#dda0bd"/>
<rect x="668" y="337" width="4" height="23" fill="#dda0bd"/>
<rect x="678" y="337" width="4" height="23" fill="#dda0bd"/>
<rect x="688" y="337" width="4" height="23" fill="#dda0bd"/>
<text x="478" y="337.5" font-size="12" font-style="italic" font-family="Liberation Sans" textLength="5.5" lengthAdjust="spacingAndGlyphs">5</text>
<rect x="487" y="328.5" width="1" height="3" fill="#000"/>
<text x="478" y="366" font-size="12" font-style="italic" font-family="Liberation Sans" textLength="5.5" lengthAdjust="spacingAndGlyphs">3</text>
<rect x="487" y="357" width="1" height="3" fill="#000"/>
<text x="712" y="337" font-size="12" font-style="italic" font-family="Liberation Sans" textLength="5.5" lengthAdjust="spacingAndGlyphs">3</text>
<rect x="721" y="328" width="1" height="3" fill="#000"/>
<text x="712" y="365" font-size="12" font-style="italic" font-family="Liberation Sans" textLength="5.5" lengthAdjust="spacingAndGlyphs">5</text>
<rect x="721" y="356" width="1" height="3" fill="#000"/>
<ellipse cx="603.4" cy="326.5" rx="12.5" ry="10.8" fill="#f6a44e" stroke="#c07838" stroke-width="1"/>
<text x="566" y="379" font-size="13" font-weight="bold" textLength="83" lengthAdjust="spacingAndGlyphs" >AP-site cleavage</text>
<rect x="542.5" y="410.5" width="46" height="17" fill="#ffffff" stroke="#000" stroke-width="1"/>
<text x="565.5" y="424" font-size="13" text-anchor="middle" textLength="18.00" lengthAdjust="spacingAndGlyphs">Xth</text>
<rect x="542.5" y="435.5" width="46" height="17" fill="#ffffff" stroke="#000" stroke-width="1"/>
<text x="565.5" y="449" font-size="13" text-anchor="middle" textLength="18.67" lengthAdjust="spacingAndGlyphs">Nfo</text>
<rect x="612.5" y="410.5" width="46" height="17" fill="#bfffbf" stroke="#000" stroke-width="1"/>
<text x="635.5" y="424" font-size="13" text-anchor="middle" textLength="31.34" lengthAdjust="spacingAndGlyphs">APEX</text>
<line x1="600.5" y1="400" x2="600.5" y2="463" stroke="#000" stroke-width="1"/>
<path d="M596,462 L605,462 L600.5,472 Z" fill="#000"/>
<text x="555" y="503" font-size="13" font-weight="bold" textLength="75.5" lengthAdjust="spacingAndGlyphs" >Strand scission</text>
<rect x="500" y="535" width="201" height="2" fill="#dda0bd"/>
<rect x="500" y="560" width="201" height="2" fill="#dda0bd"/>
<rect x="508" y="537" width="4" height="23" fill="#dda0bd"/>
<rect x="518" y="537" width="4" height="23" fill="#dda0bd"/>
<rect x="528" y="537" width="4" height="23" fill="#dda0bd"/>
<rect x="538" y="537" width="4" height="23" fill="#dda0bd"/>
<rect x="548" y="537" width="4" height="23" fill="#dda0bd"/>
<rect x="558" y="537" width="4" height="23" fill="#dda0bd"/>
<rect x="568" y="537" width="4" height="23" fill="#dda0bd"/>
<rect x="578" y="537" width="4" height="23" fill="#dda0bd"/>
<rect x="588" y="537" width="4" height="23" fill="#dda0bd"/>
<rect x="598" y="537" width="4" height="23" fill="#dda0bd"/>
<rect x="608" y="537" width="4" height="23" fill="#dda0bd"/>
<rect x="618" y="537" width="4" height="23" fill="#dda0bd"/>
<rect x="628" y="537" width="4" height="23" fill="#dda0bd"/>
<rect x="638" y="537" width="4" height="23" fill="#dda0bd"/>
<rect x="648" y="537" width="4" height="23" fill="#dda0bd"/>
<rect x="658" y="537" width="4" height="23" fill="#dda0bd"/>
<rect x="668" y="537" width="4" height="23" fill="#dda0bd"/>
<rect x="678" y="537" width="4" height="23" fill="#dda0bd"/>
<rect x="688" y="537" width="4" height="23" fill="#dda0bd"/>
<text x="478" y="538" font-size="12" font-style="italic" font-family="Liberation Sans" textLength="5.5" lengthAdjust="spacingAndGlyphs">5</text>
<rect x="487" y="529" width="1" height="3" fill="#000"/>
<text x="478" y="566" font-size="12" font-style="italic" font-family="Liberation Sans" textLength="5.5" lengthAdjust="spacingAndGlyphs">3</text>
<rect x="487" y="557" width="1" height="3" fill="#000"/>
<text x="710" y="536" font-size="12" font-style="italic" font-family="Liberation Sans" textLength="5.5" lengthAdjust="spacingAndGlyphs">3</text>
<rect x="719" y="527" width="1" height="3" fill="#000"/>
<text x="710" y="564" font-size="12" font-style="italic" font-family="Liberation Sans" textLength="5.5" lengthAdjust="spacingAndGlyphs">5</text>
<rect x="719" y="555" width="1" height="3" fill="#000"/>
<ellipse cx="562.4" cy="515.3" rx="11.7" ry="8.3" fill="#f6a44e" stroke="#c07838" stroke-width="1" transform="rotate(5 562.4 515.3)"/>
<ellipse cx="586.9" cy="513.6" rx="7.5" ry="7.2" fill="#ffe070" stroke="#f0c860" stroke-width="1"/>
<text x="585.5" y="519" font-size="13" >P</text>
<ellipse cx="591.5" cy="526.5" rx="10.5" ry="6" fill="#e2e2e2" stroke="#c8c8c8" stroke-width="1"/>
<path d="M589.5,518.5 L603,536" stroke="#dda0bd" stroke-width="2" fill="none"/>
<path d="M582,528 Q590,524 599,526" stroke="#dda0bd" stroke-width="2" fill="none"/>
<ellipse cx="559.3" cy="532.5" rx="12.7" ry="6.4" fill="#678593" stroke="#5a7684" stroke-width="1"/>
<ellipse cx="560.8" cy="543.7" rx="14" ry="8.5" fill="#ffe070" stroke="#f0c860" stroke-width="1" transform="rotate(-45 560.8 543.7)"/>
<ellipse cx="574.6" cy="533.3" rx="7.5" ry="19.4" fill="#ffaa18" stroke="#f09000" stroke-width="1"/>
<path d="M574,524 Q576,531.425 576,538.1 Q576,540.5 574,540.5 Q572,540.5 572,538.1 Q572,531.425 574,524 Z" fill="#fff"/>
<ellipse cx="591.4" cy="539.4" rx="11.4" ry="10.6" fill="#678593" stroke="#5a7684" stroke-width="1"/>
<text x="566" y="539.5" font-size="13" textLength="16.5" lengthAdjust="spacingAndGlyphs" >OH</text>
<line x1="601" y1="522.5" x2="625" y2="515.5" stroke="#000" stroke-width="1"/>
<text x="628" y="519.5" font-size="13" textLength="124" lengthAdjust="spacingAndGlyphs" >5'-Deoxyribose phosphate</text>
<line x1="600.5" y1="594" x2="600.5" y2="658" stroke="#000" stroke-width="1"/>
<path d="M596,657 L605,657 L600.5,667 Z" fill="#000"/>
<rect x="612.5" y="605.5" width="46" height="17" fill="#bfffbf" stroke="#000" stroke-width="1"/>
<text x="635.5" y="619" font-size="13" text-anchor="middle" textLength="22.11" lengthAdjust="spacingAndGlyphs">Polβ</text>
<rect x="542.5" y="631.5" width="46" height="17" fill="#ffffff" stroke="#000" stroke-width="1"/>
<text x="565.5" y="645" font-size="13" text-anchor="middle" textLength="24.67" lengthAdjust="spacingAndGlyphs">DpoI</text>
<rect x="613.5" y="631.5" width="46" height="17" fill="#bfffbf" stroke="#000" stroke-width="1"/>
<text x="636.5" y="645" font-size="13" text-anchor="middle" textLength="30.03" lengthAdjust="spacingAndGlyphs">Polδ/ε</text>
<rect x="659.5" y="631.5" width="46" height="17" fill="#bfffbf" stroke="#000" stroke-width="1"/>
<text x="682.5" y="645" font-size="13" text-anchor="middle" textLength="32.02" lengthAdjust="spacingAndGlyphs">PCNA</text>
<rect x="659.5" y="648.5" width="46" height="17" fill="#bfffbf" stroke="#000" stroke-width="1"/>
<text x="682.5" y="662" font-size="13" text-anchor="middle" textLength="22.67" lengthAdjust="spacingAndGlyphs">RFC</text>
<text x="579.5" y="684" font-size="13" font-weight="bold" textLength="54" lengthAdjust="spacingAndGlyphs" >Gap  filling</text>
<text x="546" y="694.5" font-size="13" font-weight="bold" textLength="126.5" lengthAdjust="spacingAndGlyphs" >and strand displacement</text>
<rect x="500" y="735" width="212" height="2" fill="#dda0bd"/>
<rect x="500" y="760" width="201" height="2" fill="#dda0bd"/>
<rect x="583" y="735" width="39" height="2" fill="#ffccdd"/>
<rect x="508" y="737" width="4" height="23" fill="#dda0bd"/>
<rect x="518" y="737" width="4" height="23" fill="#dda0bd"/>
<rect x="528" y="737" width="4" height="23" fill="#dda0bd"/>
<rect x="538" y="737" width="4" height="23" fill="#dda0bd"/>
<rect x="548" y="737" width="4" height="23" fill="#dda0bd"/>
<rect x="558" y="737" width="4" height="23" fill="#dda0bd"/>
<rect x="568" y="737" width="4" height="23" fill="#dda0bd"/>
<rect x="578" y="737" width="4" height="23" fill="#dda0bd"/>
<rect x="588" y="737" width="4" height="12" fill="#ffccdd"/>
<rect x="588" y="749" width="4" height="11" fill="#dda0bd"/>
<rect x="598" y="737" width="4" height="12" fill="#ffccdd"/>
<rect x="598" y="749" width="4" height="11" fill="#dda0bd"/>
<rect x="608" y="737" width="4" height="12" fill="#ffccdd"/>
<rect x="608" y="749" width="4" height="11" fill="#dda0bd"/>
<rect x="618" y="737" width="4" height="12" fill="#ffccdd"/>
<rect x="618" y="749" width="4" height="11" fill="#dda0bd"/>
<rect x="628" y="737" width="4" height="23" fill="#dda0bd"/>
<rect x="638" y="737" width="4" height="23" fill="#dda0bd"/>
<rect x="648" y="737" width="4" height="23" fill="#dda0bd"/>
<rect x="658" y="737" width="4" height="23" fill="#dda0bd"/>
<rect x="668" y="737" width="4" height="23" fill="#dda0bd"/>
<rect x="678" y="737" width="4" height="23" fill="#dda0bd"/>
<rect x="688" y="737" width="4" height="23" fill="#dda0bd"/>
<text x="482" y="742" font-size="12" font-style="italic" font-family="Liberation Sans" textLength="5.5" lengthAdjust="spacingAndGlyphs">5</text>
<rect x="491" y="733" width="1" height="3" fill="#000"/>
<text x="482" y="771" font-size="12" font-style="italic" font-family="Liberation Sans" textLength="5.5" lengthAdjust="spacingAndGlyphs">3</text>
<rect x="491" y="762" width="1" height="3" fill="#000"/>
<text x="714" y="739.5" font-size="12" font-style="italic" font-family="Liberation Sans" textLength="5.5" lengthAdjust="spacingAndGlyphs">3</text>
<rect x="723" y="730.5" width="1" height="3" fill="#000"/>
<text x="714" y="767" font-size="12" font-style="italic" font-family="Liberation Sans" textLength="5.5" lengthAdjust="spacingAndGlyphs">5</text>
<rect x="723" y="758" width="1" height="3" fill="#000"/>
<text x="641.5" y="709.5" font-size="13" >P</text>
<ellipse cx="640.7" cy="719.4" rx="12" ry="8.5" fill="#f6a44e" stroke="#c07838" stroke-width="1"/>
<ellipse cx="664.5" cy="719.5" rx="7.5" ry="8.8" fill="#ffe070" stroke="#f0c860" stroke-width="1"/>
<ellipse cx="669" cy="731" rx="8.5" ry="4" fill="#e2e2e2" stroke="#c8c8c8" stroke-width="1"/>
<ellipse cx="634" cy="736.2" rx="11.6" ry="6.3" fill="#678593" stroke="#5a7684" stroke-width="1"/>
<ellipse cx="636.8" cy="748" rx="13" ry="8.5" fill="#ffe070" stroke="#f0c860" stroke-width="1" transform="rotate(-50 636.8 748)"/>
<ellipse cx="652.9" cy="736.6" rx="7.5" ry="19" fill="#ffaa18" stroke="#f09000" stroke-width="1"/>
<path d="M651.5,729.5 Q654.0,736.475 654.0,742.0 Q654.0,745 651.5,745 Q649.0,745 649.0,742.0 Q649.0,736.475 651.5,729.5 Z" fill="#fff"/>
<ellipse cx="668.6" cy="743.5" rx="11.4" ry="10.2" fill="#678593" stroke="#5a7684" stroke-width="1"/>
<line x1="652" y1="700" x2="694" y2="735" stroke="#dda0bd" stroke-width="2"/>
<line x1="660" y1="706.5" x2="650.5" y2="714" stroke="#dda0bd" stroke-width="2"/>
<line x1="671" y1="716" x2="661" y2="724" stroke="#dda0bd" stroke-width="2"/>
<line x1="683" y1="726" x2="671" y2="735" stroke="#dda0bd" stroke-width="2"/>
<text x="647.5" y="729.5" font-size="13" textLength="17.5" lengthAdjust="spacingAndGlyphs" >OH</text>
<line x1="600.5" y1="778" x2="600.5" y2="829" stroke="#000" stroke-width="1"/>
<path d="M596,828 L605,828 L600.5,838 Z" fill="#000"/>
<rect x="612.5" y="787.5" width="46" height="17" fill="#bfffbf" stroke="#000" stroke-width="1"/>
<text x="635.5" y="801" font-size="13" text-anchor="middle" textLength="32.02" lengthAdjust="spacingAndGlyphs">PCNA</text>
<rect x="612.5" y="804.5" width="46" height="17" fill="#bfffbf" stroke="#000" stroke-width="1"/>
<text x="635.5" y="818" font-size="13" text-anchor="middle" textLength="24.00" lengthAdjust="spacingAndGlyphs">Fen1</text>
<rect x="542.5" y="804.5" width="46" height="17" fill="#ffffff" stroke="#000" stroke-width="1"/>
<text x="565.5" y="818" font-size="13" text-anchor="middle" textLength="24.67" lengthAdjust="spacingAndGlyphs">DpoI</text>
<rect x="500" y="855" width="201" height="2" fill="#dda0bd"/>
<rect x="500" y="880" width="201" height="2" fill="#dda0bd"/>
<rect x="582" y="855" width="60" height="2" fill="#ffccdd"/>
<rect x="508" y="857" width="4" height="23" fill="#dda0bd"/>
<rect x="518" y="857" width="4" height="23" fill="#dda0bd"/>
<rect x="528" y="857" width="4" height="23" fill="#dda0bd"/>
<rect x="538" y="857" width="4" height="23" fill="#dda0bd"/>
<rect x="548" y="857" width="4" height="23" fill="#dda0bd"/>
<rect x="558" y="857" width="4" height="23" fill="#dda0bd"/>
<rect x="568" y="857" width="4" height="23" fill="#dda0bd"/>
<rect x="578" y="857" width="4" height="23" fill="#dda0bd"/>
<rect x="588" y="857" width="4" height="12" fill="#ffccdd"/>
<rect x="588" y="869" width="4" height="11" fill="#dda0bd"/>
<rect x="598" y="857" width="4" height="12" fill="#ffccdd"/>
<rect x="598" y="869" width="4" height="11" fill="#dda0bd"/>
<rect x="608" y="857" width="4" height="12" fill="#ffccdd"/>
<rect x="608" y="869" width="4" height="11" fill="#dda0bd"/>
<rect x="618" y="857" width="4" height="12" fill="#ffccdd"/>
<rect x="618" y="869" width="4" height="11" fill="#dda0bd"/>
<rect x="628" y="857" width="4" height="12" fill="#ffccdd"/>
<rect x="628" y="869" width="4" height="11" fill="#dda0bd"/>
<rect x="638" y="857" width="4" height="12" fill="#ffccdd"/>
<rect x="638" y="869" width="4" height="11" fill="#dda0bd"/>
<rect x="648" y="857" width="4" height="23" fill="#dda0bd"/>
<rect x="658" y="857" width="4" height="23" fill="#dda0bd"/>
<rect x="668" y="857" width="4" height="23" fill="#dda0bd"/>
<rect x="678" y="857" width="4" height="23" fill="#dda0bd"/>
<rect x="688" y="857" width="4" height="23" fill="#dda0bd"/>
<text x="478" y="858.5" font-size="12" font-style="italic" font-family="Liberation Sans" textLength="5.5" lengthAdjust="spacingAndGlyphs">5</text>
<rect x="487" y="849.5" width="1" height="3" fill="#000"/>
<text x="478" y="887.5" font-size="12" font-style="italic" font-family="Liberation Sans" textLength="5.5" lengthAdjust="spacingAndGlyphs">3</text>
<rect x="487" y="878.5" width="1" height="3" fill="#000"/>
<text x="712" y="860" font-size="12" font-style="italic" font-family="Liberation Sans" textLength="5.5" lengthAdjust="spacingAndGlyphs">3</text>
<rect x="721" y="851" width="1" height="3" fill="#000"/>
<text x="712" y="889" font-size="12" font-style="italic" font-family="Liberation Sans" textLength="5.5" lengthAdjust="spacingAndGlyphs">5</text>
<rect x="721" y="880" width="1" height="3" fill="#000"/>
<text x="638" y="836.5" font-size="13" >P</text>
<ellipse cx="656.5" cy="839.4" rx="11.5" ry="8.2" fill="#f6a44e" stroke="#c07838" stroke-width="1"/>
<ellipse cx="681" cy="838" rx="7.3" ry="7.7" fill="#ffe070" stroke="#f0c860" stroke-width="1"/>
<ellipse cx="684" cy="851" rx="9" ry="5.2" fill="#e2e2e2" stroke="#c8c8c8" stroke-width="1"/>
<ellipse cx="651.5" cy="854.4" rx="11.2" ry="5.4" fill="#678593" stroke="#5a7684" stroke-width="1"/>
<ellipse cx="653.5" cy="867.7" rx="13" ry="8.5" fill="#ffe070" stroke="#f0c860" stroke-width="1" transform="rotate(-50 653.5 867.7)"/>
<ellipse cx="668.5" cy="858" rx="8" ry="19" fill="#ffaa18" stroke="#f09000" stroke-width="1"/>
<path d="M667.5,849 Q670.0,856.65 670.0,863.0 Q670.0,866 667.5,866 Q665.0,866 665.0,863.0 Q665.0,856.65 667.5,849 Z" fill="#fff"/>
<ellipse cx="684.6" cy="862.5" rx="10.3" ry="9.7" fill="#678593" stroke="#5a7684" stroke-width="1"/>
<line x1="645" y1="826" x2="716" y2="844" stroke="#dda0bd" stroke-width="2"/>
<line x1="657" y1="829" x2="647" y2="838" stroke="#dda0bd" stroke-width="2"/>
<line x1="668" y1="832" x2="658" y2="840" stroke="#dda0bd" stroke-width="2"/>
<line x1="679" y1="834.5" x2="669" y2="843" stroke="#dda0bd" stroke-width="2"/>
<line x1="690" y1="837.5" x2="680" y2="846" stroke="#dda0bd" stroke-width="2"/>
<line x1="701" y1="840" x2="691" y2="849" stroke="#dda0bd" stroke-width="2"/>
<text x="663.5" y="849" font-size="13" textLength="24" lengthAdjust="spacingAndGlyphs" >OHP</text>
<line x1="600.5" y1="894" x2="600.5" y2="937" stroke="#000" stroke-width="1"/>
<path d="M596,936 L605,936 L600.5,946 Z" fill="#000"/>
<rect x="612.5" y="902.5" width="46" height="17" fill="#bfffbf" stroke="#000" stroke-width="1"/>
<text x="635.5" y="916" font-size="13" text-anchor="middle" textLength="32.02" lengthAdjust="spacingAndGlyphs">PCNA</text>
<rect x="612.5" y="919.5" width="46" height="17" fill="#bfffbf" stroke="#000" stroke-width="1"/>
<text x="635.5" y="933" font-size="13" text-anchor="middle" textLength="22.66" lengthAdjust="spacingAndGlyphs">Lig1</text>
<rect x="542.5" y="919.5" width="46" height="17" fill="#bfffbf" stroke="#000" stroke-width="1"/>
<text x="565.5" y="933" font-size="13" text-anchor="middle" textLength="16.66" lengthAdjust="spacingAndGlyphs">Lig</text>
<text x="581.5" y="962.5" font-size="13" font-weight="bold" textLength="44.5" lengthAdjust="spacingAndGlyphs" >Ligation</text>
<rect x="498" y="975" width="201" height="2" fill="#dda0bd"/>
<rect x="498" y="1000" width="201" height="2" fill="#dda0bd"/>
<rect x="583" y="975" width="92" height="2" fill="#ffccdd"/>
<rect x="506" y="977" width="4" height="23" fill="#dda0bd"/>
<rect x="516" y="977" width="4" height="23" fill="#dda0bd"/>
<rect x="526" y="977" width="4" height="23" fill="#dda0bd"/>
<rect x="536" y="977" width="4" height="23" fill="#dda0bd"/>
<rect x="546" y="977" width="4" height="23" fill="#dda0bd"/>
<rect x="556" y="977" width="4" height="23" fill="#dda0bd"/>
<rect x="566" y="977" width="4" height="23" fill="#dda0bd"/>
<rect x="576" y="977" width="4" height="23" fill="#dda0bd"/>
<rect x="586" y="977" width="4" height="12" fill="#ffccdd"/>
<rect x="586" y="989" width="4" height="11" fill="#dda0bd"/>
<rect x="596" y="977" width="4" height="12" fill="#ffccdd"/>
<rect x="596" y="989" width="4" height="11" fill="#dda0bd"/>
<rect x="606" y="977" width="4" height="12" fill="#ffccdd"/>
<rect x="606" y="989" width="4" height="11" fill="#dda0bd"/>
<rect x="616" y="977" width="4" height="12" fill="#ffccdd"/>
<rect x="616" y="989" width="4" height="11" fill="#dda0bd"/>
<rect x="626" y="977" width="4" height="12" fill="#ffccdd"/>
<rect x="626" y="989" width="4" height="11" fill="#dda0bd"/>
<rect x="636" y="977" width="4" height="12" fill="#ffccdd"/>
<rect x="636" y="989" width="4" height="11" fill="#dda0bd"/>
<rect x="646" y="977" width="4" height="12" fill="#ffccdd"/>
<rect x="646" y="989" width="4" height="11" fill="#dda0bd"/>
<rect x="656" y="977" width="4" height="12" fill="#ffccdd"/>
<rect x="656" y="989" width="4" height="11" fill="#dda0bd"/>
<rect x="666" y="977" width="4" height="12" fill="#ffccdd"/>
<rect x="666" y="989" width="4" height="11" fill="#dda0bd"/>
<rect x="676" y="977" width="4" height="23" fill="#dda0bd"/>
<rect x="686" y="977" width="4" height="23" fill="#dda0bd"/>
<text x="478" y="980.5" font-size="12" font-style="italic" font-family="Liberation Sans" textLength="5.5" lengthAdjust="spacingAndGlyphs">5</text>
<rect x="487" y="971.5" width="1" height="3" fill="#000"/>
<text x="478" y="1008.5" font-size="12" font-style="italic" font-family="Liberation Sans" textLength="5.5" lengthAdjust="spacingAndGlyphs">3</text>
<rect x="487" y="999.5" width="1" height="3" fill="#000"/>
<text x="712" y="978.5" font-size="12" font-style="italic" font-family="Liberation Sans" textLength="5.5" lengthAdjust="spacingAndGlyphs">3</text>
<rect x="721" y="969.5" width="1" height="3" fill="#000"/>
<text x="712" y="1006" font-size="12" font-style="italic" font-family="Liberation Sans" textLength="5.5" lengthAdjust="spacingAndGlyphs">5</text>
<rect x="721" y="997" width="1" height="3" fill="#000"/>
<text x="556.5" y="1039.5" font-size="13" font-weight="bold" textLength="84.5" lengthAdjust="spacingAndGlyphs" >Long patch BER</text>
<rect x="803" y="621" width="205" height="399" fill="#cccccc" stroke="#000" stroke-width="2"/>
<text x="814" y="655" font-size="13" font-weight="bold" textLength="70" lengthAdjust="spacingAndGlyphs" >BER complex</text>
<text x="824" y="673" font-size="13" textLength="80.5" lengthAdjust="spacingAndGlyphs" >Short patch BER</text>
<ellipse cx="950" cy="710.5" rx="22" ry="13.5" fill="#ffe070" stroke="#f0c860" stroke-width="1" transform="rotate(-48 950 710.5)"/>
<ellipse cx="924.5" cy="731" rx="32" ry="12.5" fill="#fff590" stroke="#e8e080" stroke-width="1"/>
<ellipse cx="888.6" cy="716.3" rx="22.5" ry="16.3" fill="#f6a44e" stroke="#c07838" stroke-width="1"/>
<ellipse cx="896.4" cy="748.3" rx="22.5" ry="12.8" fill="#678593" stroke="#5a7684" stroke-width="1"/>
<ellipse cx="944" cy="748.7" rx="24.8" ry="14.2" fill="#e2e2e2" stroke="#c8c8c8" stroke-width="1" transform="rotate(8 944 748.7)"/>
<text x="870" y="721.5" font-size="13" textLength="31" lengthAdjust="spacingAndGlyphs" >APEX</text>
<text x="937.5" y="715" font-size="13" textLength="32" lengthAdjust="spacingAndGlyphs" >Lig III</text>
<text x="907.5" y="733.5" font-size="13" textLength="38" lengthAdjust="spacingAndGlyphs" >XRCC1</text>
<text x="886" y="752" font-size="13" textLength="22" lengthAdjust="spacingAndGlyphs" >Polβ</text>
<text x="929.5" y="752" font-size="13" textLength="29" lengthAdjust="spacingAndGlyphs" >PARP</text>
<rect x="829.5" y="768.5" width="46" height="17" fill="#bfffbf" stroke="#000" stroke-width="1"/>
<text x="852.5" y="782" font-size="13" text-anchor="middle" textLength="31.34" lengthAdjust="spacingAndGlyphs">APEX</text>
<rect x="875.5" y="768.5" width="46" height="17" fill="#bfffbf" stroke="#000" stroke-width="1"/>
<text x="898.5" y="782" font-size="13" text-anchor="middle" textLength="28.92" lengthAdjust="spacingAndGlyphs">PARP</text>
<rect x="829.5" y="785.5" width="46" height="17" fill="#bfffbf" stroke="#000" stroke-width="1"/>
<text x="852.5" y="799" font-size="13" text-anchor="middle" textLength="22.11" lengthAdjust="spacingAndGlyphs">Polβ</text>
<rect x="875.5" y="785.5" width="46" height="17" fill="#bfffbf" stroke="#000" stroke-width="1"/>
<text x="898.5" y="799" font-size="13" text-anchor="middle" textLength="38.67" lengthAdjust="spacingAndGlyphs">XRCC1</text>
<rect x="921.5" y="777.5" width="46" height="17" fill="#bfffbf" stroke="#000" stroke-width="1"/>
<text x="944.5" y="791" font-size="13" text-anchor="middle" textLength="22.66" lengthAdjust="spacingAndGlyphs">Lig3</text>
<text x="825.5" y="841" font-size="13" textLength="81" lengthAdjust="spacingAndGlyphs" >Long patch BER</text>
<ellipse cx="888.3" cy="865.3" rx="21.7" ry="15.3" fill="#f6a44e" stroke="#c07838" stroke-width="1"/>
<ellipse cx="936.7" cy="870.3" rx="15.1" ry="19.2" fill="#fff590" stroke="#e8e080" stroke-width="1"/>
<ellipse cx="881.3" cy="898.1" rx="22.4" ry="13" fill="#678593" stroke="#5a7684" stroke-width="1"/>
<ellipse cx="910.8" cy="902.2" rx="15.2" ry="37.1" fill="#ffaa18" stroke="#f09000" stroke-width="1"/>
<path d="M909.5,886 Q916.5,901 909.5,917 Q902.5,901 909.5,886 Z" fill="#fff"/>
<ellipse cx="945" cy="912.4" rx="22.8" ry="20.2" fill="#678593" stroke="#5a7684" stroke-width="1"/>
<ellipse cx="885.3" cy="924.5" rx="16" ry="20.5" fill="#ffe070" stroke="#f0c860" stroke-width="1" transform="rotate(30 885.3 924.5)"/>
<text x="872" y="869" font-size="13" textLength="31" lengthAdjust="spacingAndGlyphs" >APEX</text>
<text x="922" y="874" font-size="13" textLength="27.5" lengthAdjust="spacingAndGlyphs" >FEN1</text>
<text x="896" y="884" font-size="13" textLength="30.5" lengthAdjust="spacingAndGlyphs" >PCNA</text>
<text x="869.5" y="902" font-size="13" textLength="22" lengthAdjust="spacingAndGlyphs" >Polβ</text>
<text x="875.5" y="926.5" font-size="13" textLength="22" lengthAdjust="spacingAndGlyphs" >Lig1</text>
<text x="929.5" y="917" font-size="13" textLength="30" lengthAdjust="spacingAndGlyphs" >Polδ/ε</text>
<rect x="829.5" y="948.5" width="46" height="17" fill="#bfffbf" stroke="#000" stroke-width="1"/>
<text x="852.5" y="962" font-size="13" text-anchor="middle" textLength="22.11" lengthAdjust="spacingAndGlyphs">Polβ</text>
<rect x="875.5" y="948.5" width="46" height="17" fill="#bfffbf" stroke="#000" stroke-width="1"/>
<text x="898.5" y="962" font-size="13" text-anchor="middle" textLength="31.34" lengthAdjust="spacingAndGlyphs">APEX</text>
<rect x="829.5" y="965.5" width="46" height="17" fill="#bfffbf" stroke="#000" stroke-width="1"/>
<text x="852.5" y="979" font-size="13" text-anchor="middle" textLength="22.66" lengthAdjust="spacingAndGlyphs">Lig1</text>
<rect x="875.5" y="965.5" width="46" height="17" fill="#bfffbf" stroke="#000" stroke-width="1"/>
<text x="898.5" y="979" font-size="13" text-anchor="middle" textLength="32.02" lengthAdjust="spacingAndGlyphs">PCNA</text>
<rect x="921.5" y="958.5" width="46" height="17" fill="#bfffbf" stroke="#000" stroke-width="1"/>
<text x="944.5" y="972" font-size="13" text-anchor="middle" textLength="24.00" lengthAdjust="spacingAndGlyphs">Fen1</text>
<rect x="875.5" y="982.5" width="46" height="17" fill="#bfffbf" stroke="#000" stroke-width="1"/>
<text x="898.5" y="996" font-size="13" text-anchor="middle" textLength="21.66" lengthAdjust="spacingAndGlyphs">Polδ</text>
<rect x="921.5" y="982.5" width="46" height="17" fill="#bfffbf" stroke="#000" stroke-width="1"/>
<text x="944.5" y="996" font-size="13" text-anchor="middle" textLength="21.05" lengthAdjust="spacingAndGlyphs">Polε</text>
<text x="15.5" y="1067.5" font-size="13" textLength="68.5" lengthAdjust="spacingAndGlyphs" >03410 3/28/23</text>
<text x="15.5" y="1078.5" font-size="13" textLength="123.5" lengthAdjust="spacingAndGlyphs" >(c) Kanehisa Laboratories</text>
</svg>
</body></html>
